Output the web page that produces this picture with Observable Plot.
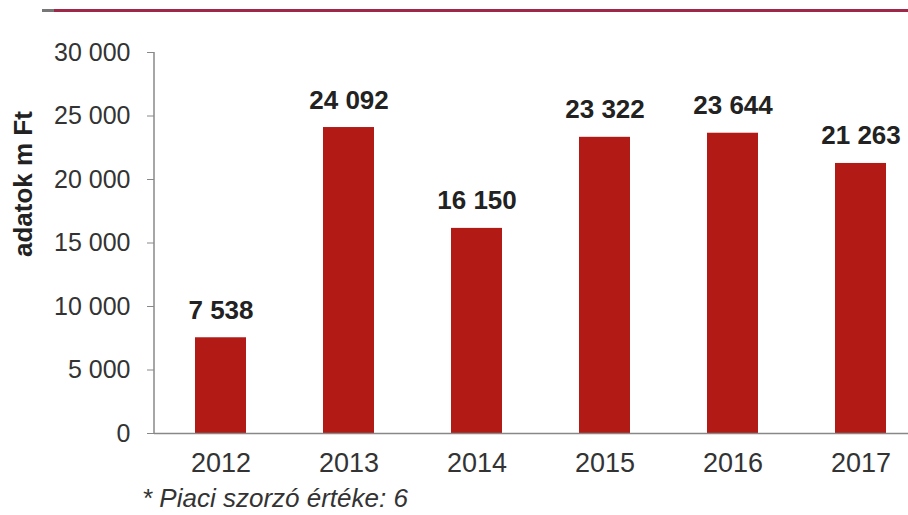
<!DOCTYPE html>
<html>
<head>
<meta charset="utf-8">
<script src="https://cdn.jsdelivr.net/npm/d3@7"></script>
<script src="https://cdn.jsdelivr.net/npm/@observablehq/plot@0.6"></script>
<style>
  body { margin: 0; background: #fff; font-family: "Liberation Sans", Arial, sans-serif; }
  #wrap { position: relative; width: 908px; height: 515px; overflow: hidden; }
  #topline { position: absolute; left: 42px; right: 0; top: 9px; height: 3px; background: #9e2847; }
  #topline::before { content: ""; position: absolute; left: 0; top: 0; width: 12px; height: 3px; background: #777; }
  #note { position: absolute; left: 142px; top: 483px; font-size: 26px; font-style: italic; color: #333; white-space: nowrap; }
  #chart { position: absolute; left: 0; top: 0; }
</style>
</head>
<body>
<div id="wrap">
  <div id="chart"></div>
  <div id="topline"></div>
  <div id="note">* Piaci szorzó értéke: 6</div>
</div>
<script>
const years = ["2012", "2013", "2014", "2015", "2016", "2017"];
const values = [7538, 24092, 16150, 23322, 23644, 21263];
const yTicks = [0, 5000, 10000, 15000, 20000, 25000, 30000];
const yLabel = "adatok m Ft";

const data = years.map((year, i) => ({year, value: values[i]}));
const fmt = d3.formatLocale({decimal: ",", thousands: " ", grouping: [3], currency: ["", ""]}).format(",");

const yAxisLine = (index, scales, values, dimensions) => {
  return d3.create("svg:line")
    .attr("x1", dimensions.marginLeft).attr("x2", dimensions.marginLeft)
    .attr("y1", scales.y(0)).attr("y2", scales.y(30000))
    .attr("stroke", "#888").attr("stroke-width", 1.5)
    .node();
};

const chart = Plot.plot({
  width: 908,
  height: 480,
  marginTop: 52,
  marginBottom: 47,
  marginLeft: 154,
  marginRight: 0,
  style: {fontFamily: "Liberation Sans, Arial, sans-serif", fontSize: "25px", color: "#333", background: "transparent", overflow: "visible"},
  x: {domain: years, range: [156, 926], paddingInner: 0.6, paddingOuter: 0.3, label: null},
  y: {domain: [0, 30000], label: null},
  marks: [
    Plot.barY(data, {x: "year", y: "value", fill: "#b21a16"}),
    Plot.text(data, {x: "year", y: "value", text: d => fmt(d.value), dy: -19, lineAnchor: "bottom", fontWeight: "bold", fontSize: 26, fill: "#222"}),
    Plot.axisY({ticks: yTicks, tickFormat: fmt, tickSize: 7, tickPadding: 17, stroke: "#888", label: null, fontSize: 25}),
    yAxisLine,
    Plot.ruleY([0], {stroke: "#888", strokeWidth: 1.5}),
    Plot.axisX({tickSize: 0, tickPadding: 19, label: null, fontSize: 27}),
    Plot.text([yLabel], {frameAnchor: "left", dx: -131, dy: 14, rotate: -90, fontWeight: "bold", fontSize: 26, fill: "#222"})
  ]
});
document.getElementById("chart").appendChild(chart);
</script>
</body>
</html>
